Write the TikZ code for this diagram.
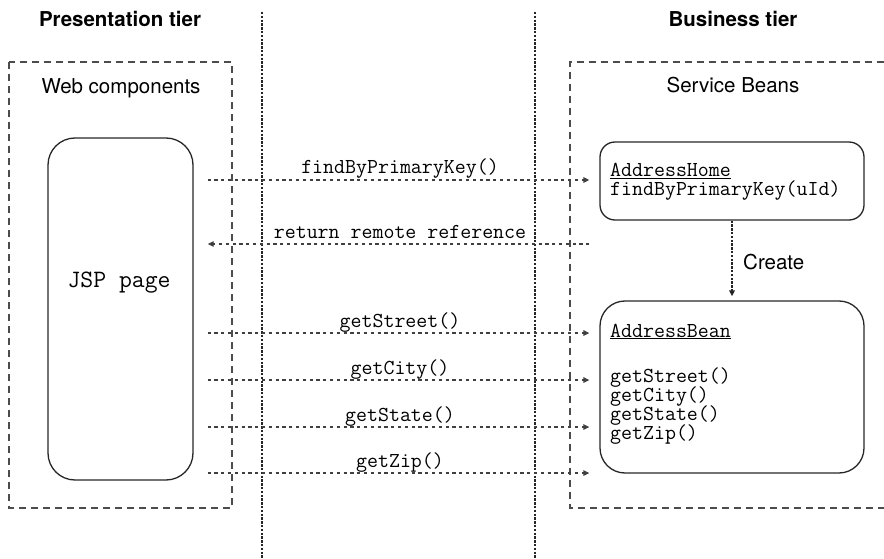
\documentclass[tikz,border=0pt]{standalone}
\usepackage{fontspec}
\setmainfont{TeX Gyre Heros}
\usetikzlibrary{arrows.meta}
\newcommand\mytightlines{\lineskiplimit=-100pt\relax}
\begin{document}
\begin{tikzpicture}[x=1pt,y=-1pt,
  sans/.style={font=\fontsize{20.5}{24}\selectfont},
  tier/.style={font=\bfseries\fontsize{20.5}{24}\selectfont},
  mono/.style={font=\ttfamily\fontsize{21.3}{24}\selectfont},
  boxline/.style={draw=black!85, line width=1.3pt},
  grp/.style={draw=black!70, line width=1.2pt, dash pattern=on 7pt off 5pt},
  tierline/.style={draw=black!85, line width=1.6pt, dash pattern=on 2.4pt off 1.4pt},
  createline/.style={tierline, -{Triangle[length=6pt,width=5.5pt]}},
  msg/.style={draw=black!75, line width=1.3pt, dash pattern=on 3.2pt off 3.6pt, -{Triangle[length=6pt,width=5.5pt]}},
  lbl/.style={mono, anchor=base, inner sep=0pt, yshift=6pt, xshift=3.5pt},
  txt/.style={mono, anchor=base west, inner sep=0pt}
]
\useasboundingbox (0,0) rectangle (884,559);

% tier separators
\coordinate (s1top) at (262,12);
\coordinate (s1bot) at (262,559);
\coordinate (s2top) at (535,12);
\coordinate (s2bot) at (535,559);
\draw[tierline] (s1top) -- (s1bot);
\draw[tierline] (s2top) -- (s2bot);

% group frames
\draw[grp] (9,62) rectangle (232,508);
\draw[grp] (884,62) -- (570,62) -- (570,508) -- (884,508);

% headings
\node[tier, anchor=base] (pt) at (120,27) {Presentation tier};
\node[tier, anchor=base] (bt) at (733,27) {Business tier};
\node[sans, anchor=base] (wc) at (121,94) {Web components};
\node[sans, anchor=base] (sb) at (733,93) {Service Beans};

% JSP page
\node[boxline, rounded corners=27pt, minimum width=145pt, minimum height=342pt, inner sep=0pt] (jsp) at (120.5,309) {};
\node[font=\ttfamily\fontsize{25}{28}\selectfont, anchor=base, inner sep=0pt] (jsptext) at (119,287) {JSP page};

% AddressHome
\node[boxline, rounded corners=15pt, minimum width=264pt, minimum height=78pt, inner sep=0pt] (home) at (732,181) {};
\node[txt] (hname) at (610,177) {\underline{AddressHome}};
\node[txt] (hm) at (610,196) {findByPrimaryKey(uId)};

% AddressBean
\node[boxline, rounded corners=25pt, minimum width=264pt, minimum height=172pt, inner sep=0pt] (bean) at (732,387) {};
\node[txt] (bname) at (610,337) {\underline{AddressBean}};
\node[txt, align=left, font={\ttfamily\fontsize{21.3}{18.7}\selectfont\mytightlines}] (bm) at (610,439) {getStreet()\\getCity()\\getState()\\getZip()};

% create
\draw[createline, shorten >=4pt] (home.south) -- (bean.north);
\node[sans, anchor=base west, inner sep=0pt] (cr) at (743,269) {Create};

% messages
\draw[msg, shorten <=14pt, shorten >=10pt] (jsp.east |- 0,180) -- node[lbl]{findByPrimaryKey()} (home.west |- 0,180);
\draw[msg, shorten <=10pt, shorten >=14pt] (home.west |- 0,244) -- node[lbl]{return remote reference} (jsp.east |- 0,244);
\draw[msg, shorten <=14pt, shorten >=10pt] (jsp.east |- 0,333) -- node[lbl]{getStreet()} (bean.west |- 0,333);
\draw[msg, shorten <=14pt, shorten >=10pt] (jsp.east |- 0,380) -- node[lbl]{getCity()} (bean.west |- 0,380);
\draw[msg, shorten <=14pt, shorten >=10pt] (jsp.east |- 0,427) -- node[lbl]{getState()} (bean.west |- 0,427);
\draw[msg, shorten <=14pt, shorten >=10pt] (jsp.east |- 0,473) -- node[lbl]{getZip()} (bean.west |- 0,473);
\end{tikzpicture}
\end{document}
